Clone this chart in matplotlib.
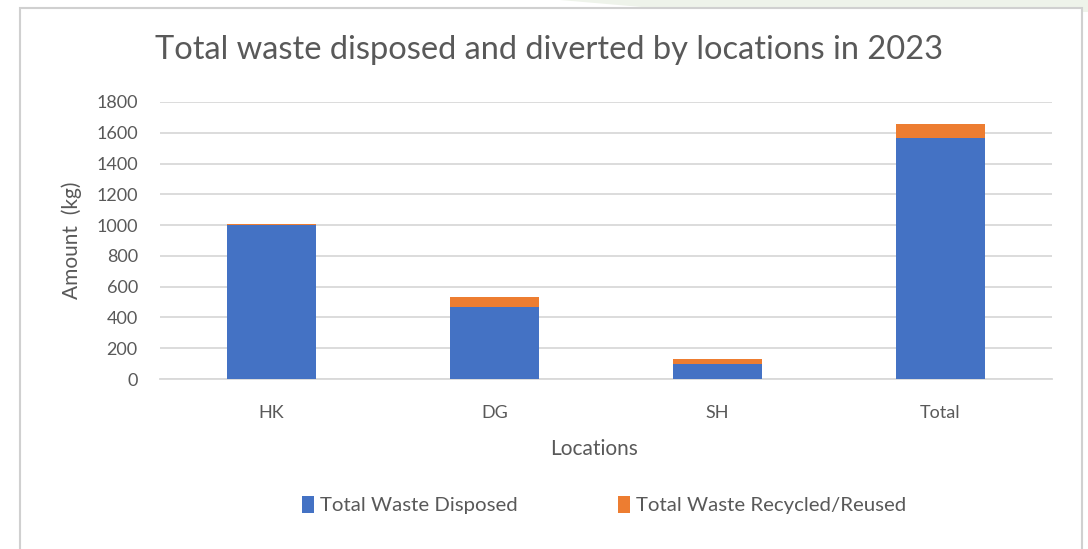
import matplotlib
matplotlib.use("Agg")
import matplotlib.pyplot as plt
from matplotlib.patches import Rectangle, Polygon
import numpy as np

plt.rcParams['font.family'] = ['Lato', 'DejaVu Sans']

locations = ["HK", "DG", "SH", "Total"]
disposed = [1000, 465, 100, 1565]
recycled = [8, 68, 28, 95]
yticks = [0, 200, 400, 600, 800, 1000, 1200, 1400, 1600, 1800]

W, H = 1088, 549
fig = plt.figure(figsize=(W / 100, H / 100), dpi=100)
fig.patch.set_facecolor("white")

# faint background decoration outside the chart frame
fig.patches.append(Polygon([[560 / W, 1], [1088 / W, 1], [1088 / W, 1 - 12 / H], [700 / W, 1 - 12 / H]],
                           closed=True, transform=fig.transFigure, facecolor="#eef3ea", edgecolor="none", zorder=0))
# chart frame
fig.patches.append(Rectangle((20 / W, -0.05), (1082 - 20) / W, 1.05 - 8 / H, transform=fig.transFigure,
                             facecolor="white", edgecolor="#d0d0d0", linewidth=1.5, zorder=1))

ax = fig.add_axes([160 / W, 1 - 379 / H, (1052 - 160) / W, (379 - 102) / H])
ax.set_zorder(2)
ax.patch.set_alpha(0)

x = np.arange(len(locations))
bw = 0.395
blue = "#4472c4"
orange = "#ed7d31"
ax.bar(x, disposed, bw, color=blue, label="Total Waste Disposed", zorder=3)
ax.bar(x, recycled, bw, bottom=disposed, color=orange, label="Total Waste Recycled/Reused", zorder=3)

ax.set_xlim(-0.5, len(locations) - 0.5)
ax.set_ylim(0, 1800)
ax.set_yticks(yticks)
ax.set_yticklabels([str(v) for v in yticks])
ax.set_xticks(x)
ax.set_xticklabels(locations)
ax.yaxis.grid(True, color="#d9d9d9", linewidth=1.3, zorder=0)
ax.set_axisbelow(True)
for s in ["top", "right", "left"]:
    ax.spines[s].set_visible(False)
ax.spines["bottom"].set_color("#d9d9d9")
ax.spines["bottom"].set_linewidth(1.3)
ax.tick_params(axis="both", length=0, colors="#595959", labelsize=13)
ax.tick_params(axis="x", pad=19)
ax.tick_params(axis="y", pad=16)

fig.text(549 / W, 1 - 50 / H, "Total waste disposed and diverted by locations in 2023",
         ha="center", va="center", fontsize=23.5, color="#595959")
fig.text(72 / W, 1 - 240 / H, "Amount  (kg)", rotation=90, ha="center", va="center",
         fontsize=15, color="#595959")
fig.text(594 / W, 1 - 449 / H, "Locations", ha="center", va="center", fontsize=15, color="#595959")

leg = ax.legend(loc="center", bbox_to_anchor=(604 / W, 1 - 505 / H), bbox_transform=fig.transFigure,
                ncol=2, frameon=False, fontsize=14.7, handlelength=0.6, handleheight=0.9,
                handletextpad=0.3, columnspacing=4.9, labelcolor="#595959")

fig.savefig("out.png", dpi=100)
